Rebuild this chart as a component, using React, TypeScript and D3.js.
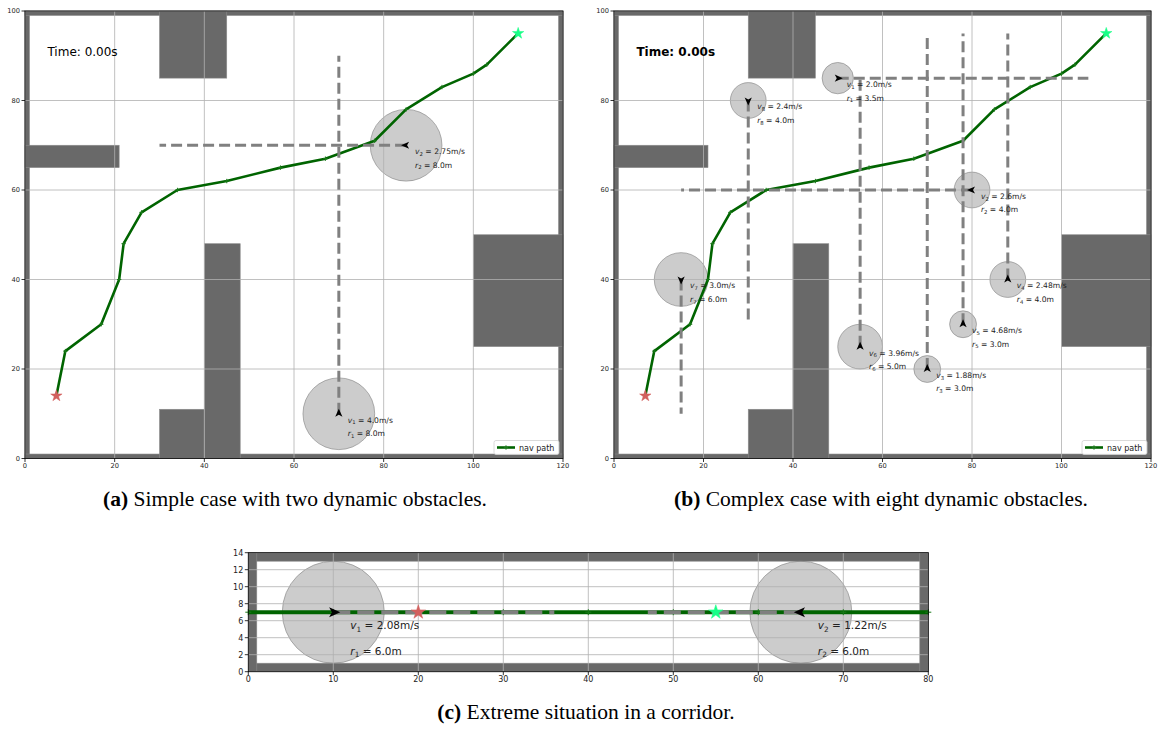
import React from 'react';
import * as d3 from 'd3';

// ---------- shared map (panels a and b), metres ----------
// rectangles as [x0, y0, x1, y1]
const MAP_WALLS: [number, number, number, number][] = [
  [0, 0, 1, 100],
  [119, 0, 120, 100],
  [0, 0, 120, 1],
  [0, 99, 120, 100],
];
const MAP_BLOCKS: [number, number, number, number][] = [
  [30, 85, 45, 100],
  [0, 65, 21, 70],
  [30, 0, 40, 11],
  [40, 0, 48, 48],
  [100, 25, 120, 50],
];

const NAV_X = [7, 9, 17, 21, 22, 26, 34, 45, 57, 67, 78, 85, 93, 100, 103, 110];
const NAV_Y = [14, 24, 30, 40, 48, 55, 60, 62, 65, 67, 71, 78, 83, 86, 88, 95];
const MAP_START: [number, number] = [7, 14];
const MAP_GOAL: [number, number] = [110, 95];
const MAP_X_TICKS = [0, 20, 40, 60, 80, 100, 120];
const MAP_Y_TICKS = [0, 20, 40, 60, 80, 100];

// ---------- panel (a): two dynamic obstacles ----------
const A_X = [70, 85];
const A_Y = [10, 70];
const A_R = [8, 8];
const A_V = [4.0, 2.75];
const A_END_X = [70, 30];
const A_END_Y = [90, 70];

// ---------- panel (b): eight dynamic obstacles ----------
const B_X = [50, 80, 70, 88, 78, 55, 15, 30];
const B_Y = [85, 60, 20, 40, 30, 25, 40, 80];
const B_R = [3.5, 4.0, 3.0, 4.0, 3.0, 5.0, 6.0, 4.0];
const B_V = [2.0, 2.6, 1.88, 2.48, 4.68, 3.96, 3.0, 2.4];
const B_END_X = [106, 15, 70, 88, 78, 55, 15, 30];
const B_END_Y = [85, 60, 95, 95, 95, 85, 10, 30];

// ---------- panel (c): corridor ----------
const C_WALLS: [number, number, number, number][] = [
  [0, 0, 80, 1],
  [0, 13, 80, 14],
  [0, 0, 1, 14],
  [79, 0, 80, 14],
];
const C_NAV_X = [0, 10, 20, 30, 40, 50, 60, 70, 80];
const C_NAV_Y = [7, 7, 7, 7, 7, 7, 7, 7, 7];
const C_START: [number, number] = [20, 7];
const C_GOAL: [number, number] = [55, 7];
const C_X = [10, 65];
const C_Y = [7, 7];
const C_R = [6.0, 6.0];
const C_V = [2.08, 1.22];
const C_END_X = [36, 47];
const C_END_Y = [7, 7];
const C_X_TICKS = [0, 10, 20, 30, 40, 50, 60, 70, 80];
const C_Y_TICKS = [0, 2, 4, 6, 8, 10, 12, 14];

const SANS = "'DejaVu Sans', 'Liberation Sans', sans-serif";
const SERIF = "'Liberation Serif', 'Times New Roman', serif";
const WALL = '#696969';
const PATH_GREEN = '#006400';

const fmt = (n: number) => (Number.isInteger(n) ? n.toFixed(1) : String(n));

interface Look {
  tick: number;
  tickLen: number;
  label: number;
  path: number;
  dashW: number;
  dash: string;
  mark: number;
  star: number;
  arrow: number;
}

interface Obstacles {
  x: number[];
  y: number[];
  r: number[];
  v: number[];
  ex: number[];
  ey: number[];
}

interface PanelProps {
  box: { left: number; right: number; top: number; bottom: number };
  xDomain: [number, number];
  yDomain: [number, number];
  xTicks: number[];
  yTicks: number[];
  rects: [number, number, number, number][];
  navX: number[];
  navY: number[];
  obs: Obstacles;
  start: [number, number];
  goal: [number, number];
  look: Look;
  time?: { bold: boolean };
  legend?: boolean;
}

function Subscripted({ sym, idx, rest, fs }: { sym: string; idx: number; rest: string; fs: number }) {
  return (
    <>
      <tspan fontStyle="italic">{sym}</tspan>
      <tspan fontSize={fs * 0.7} dy={fs * 0.22}>{idx}</tspan>
      <tspan dy={-fs * 0.22}>{rest}</tspan>
    </>
  );
}

function Panel(p: PanelProps) {
  const { box, look } = p;
  const xs = d3.scaleLinear().domain(p.xDomain).range([box.left, box.right]);
  const ys = d3.scaleLinear().domain(p.yDomain).range([box.bottom, box.top]);
  const line = d3
    .line<[number, number]>()
    .x((d) => xs(d[0]))
    .y((d) => ys(d[1]));
  const navPts = p.navX.map((x, i) => [x, p.navY[i]] as [number, number]);
  const starD = d3.symbol(d3.symbolStar, (look.star * look.star) / 0.8908130915292852)() || '';
  const a = look.arrow;
  const arrowD = `M${5 * a},0 L${-3 * a},${3.6 * a} L${-1 * a},0 L${-3 * a},${-3.6 * a} Z`;
  const m = look.mark;

  return (
    <g>
      {/* walls and static blocks */}
      {p.rects.map((r, i) => (
        <rect
          key={'w' + i}
          x={xs(r[0])}
          y={ys(r[3])}
          width={xs(r[2]) - xs(r[0])}
          height={ys(r[1]) - ys(r[3])}
          fill={WALL}
          stroke="#8c8c8c"
          strokeWidth={0.6}
        />
      ))}

      {/* dynamic obstacle bodies */}
      {p.obs.x.map((x, i) => (
        <circle
          key={'c' + i}
          cx={xs(x)}
          cy={ys(p.obs.y[i])}
          r={xs(p.obs.r[i]) - xs(0)}
          fill="#808080"
          fillOpacity={0.4}
          stroke="#808080"
          strokeOpacity={0.6}
          strokeWidth={1}
        />
      ))}

      {/* grid */}
      {p.xTicks.map((t) => (
        <line key={'gx' + t} x1={xs(t)} x2={xs(t)} y1={box.top} y2={box.bottom} stroke="#b0b0b0" strokeWidth={0.8} />
      ))}
      {p.yTicks.map((t) => (
        <line key={'gy' + t} y1={ys(t)} y2={ys(t)} x1={box.left} x2={box.right} stroke="#b0b0b0" strokeWidth={0.8} />
      ))}

      {/* navigation path */}
      <path d={line(navPts) || ''} fill="none" stroke={PATH_GREEN} strokeWidth={look.path} strokeLinejoin="round" />
      {navPts.map((d, i) => (
        <g key={'m' + i} transform={`translate(${xs(d[0])},${ys(d[1])})`} stroke="#1a7a1a" strokeWidth={1}>
          <line x1={-m} x2={m} y1={0} y2={0} />
          <line x1={0} x2={0} y1={-m} y2={m} />
        </g>
      ))}

      {/* obstacle trajectories */}
      {p.obs.x.map((x, i) => (
        <line
          key={'t' + i}
          x1={xs(x)}
          y1={ys(p.obs.y[i])}
          x2={xs(p.obs.ex[i])}
          y2={ys(p.obs.ey[i])}
          stroke="#808080"
          strokeWidth={look.dashW}
          strokeDasharray={look.dash}
        />
      ))}

      {/* heading arrows */}
      {p.obs.x.map((x, i) => {
        const dx = xs(p.obs.ex[i]) - xs(x);
        const dy = ys(p.obs.ey[i]) - ys(p.obs.y[i]);
        const ang = (Math.atan2(dy, dx) * 180) / Math.PI;
        return (
          <path
            key={'a' + i}
            d={arrowD}
            transform={`translate(${xs(x)},${ys(p.obs.y[i])}) rotate(${ang})`}
            fill="#000"
          />
        );
      })}

      {/* start / goal */}
      <path d={starD} transform={`translate(${xs(p.start[0])},${ys(p.start[1])})`} fill="#d2605e" stroke="#d2605e" strokeWidth={0.5} />
      <path d={starD} transform={`translate(${xs(p.goal[0])},${ys(p.goal[1])})`} fill="#18ff87" stroke="#18ff87" strokeWidth={0.5} />

      {/* obstacle annotations */}
      {p.obs.x.map((x, i) => (
        <g key={'l' + i} fontFamily={SANS} fontSize={look.label} fill="#222">
          <text x={xs(x + 2)} y={ys(p.obs.y[i] - 2)}>
            <Subscripted sym="v" idx={i + 1} rest={` = ${fmt(p.obs.v[i])}m/s`} fs={look.label} />
          </text>
          <text x={xs(x + 2)} y={ys(p.obs.y[i] - 5)}>
            <Subscripted sym="r" idx={i + 1} rest={` = ${fmt(p.obs.r[i])}m`} fs={look.label} />
          </text>
        </g>
      ))}

      {/* frame */}
      <rect
        x={box.left}
        y={box.top}
        width={box.right - box.left}
        height={box.bottom - box.top}
        fill="none"
        stroke="#000"
        strokeWidth={0.8}
      />

      {/* ticks */}
      <g fontFamily={SANS} fontSize={look.tick} fill="#222">
        {p.xTicks.map((t) => (
          <g key={'xt' + t}>
            <line x1={xs(t)} x2={xs(t)} y1={box.bottom} y2={box.bottom + look.tickLen} stroke="#000" strokeWidth={0.8} />
            <text x={xs(t)} y={box.bottom + look.tickLen + 1.2 + look.tick * 0.76} textAnchor="middle">
              {t}
            </text>
          </g>
        ))}
        {p.yTicks.map((t) => (
          <g key={'yt' + t}>
            <line x1={box.left - look.tickLen} x2={box.left} y1={ys(t)} y2={ys(t)} stroke="#000" strokeWidth={0.8} />
            <text x={box.left - look.tickLen - 1.5} y={ys(t) + look.tick * 0.36} textAnchor="end">
              {t}
            </text>
          </g>
        ))}
      </g>

      {p.time && (
        <text x={xs(5)} y={ys(90)} fontFamily={SANS} fontSize={12} fontWeight={p.time.bold ? 'bold' : 'normal'} fill="#000">
          Time: 0.00s
        </text>
      )}

      {p.legend && (
        <g>
          <rect
            x={box.right - 4 - 65}
            y={box.bottom - 4 - 14}
            width={65}
            height={14}
            rx={2}
            fill="#fff"
            fillOpacity={0.85}
            stroke="#d0d0d0"
            strokeWidth={0.8}
          />
          <line
            x1={box.right - 4 - 62}
            x2={box.right - 4 - 44}
            y1={box.bottom - 11}
            y2={box.bottom - 11}
            stroke={PATH_GREEN}
            strokeWidth={look.path}
          />
          <g transform={`translate(${box.right - 4 - 53},${box.bottom - 11})`} stroke="#1a7a1a" strokeWidth={1}>
            <line x1={-m} x2={m} y1={0} y2={0} />
            <line x1={0} x2={0} y1={-m} y2={m} />
          </g>
          <text x={box.right - 4 - 40} y={box.bottom - 8} fontFamily={SANS} fontSize={8} fill="#222">
            nav path
          </text>
        </g>
      )}
    </g>
  );
}

const MAP_LOOK: Look = {
  tick: 6.7,
  tickLen: 3.5,
  label: 7.6,
  path: 2.6,
  dashW: 3,
  dash: '11,5',
  mark: 2.2,
  star: 6,
  arrow: 1,
};

const CORRIDOR_LOOK: Look = {
  tick: 8,
  tickLen: 3.5,
  label: 10.5,
  path: 4,
  dashW: 4,
  dash: '17,7',
  mark: 3,
  star: 7.5,
  arrow: 1.4,
};

function Caption({ x, y, tag, text }: { x: number; y: number; tag: string; text: string }) {
  return (
    <text x={x} y={y} textAnchor="middle" fontFamily={SERIF} fontSize={21.5} fill="#000">
      <tspan fontWeight="bold">{tag}</tspan>
      <tspan>{' ' + text}</tspan>
    </text>
  );
}

export default function App() {
  const boxA = { left: 25, right: 563, top: 11, bottom: 458.5 };
  const boxB = { left: 614, right: 1151, top: 11, bottom: 458.5 };
  const boxC = { left: 248.3, right: 928.3, top: 552.7, bottom: 671.7 };
  return (
    <svg
      width={1158}
      height={732}
      viewBox="0 0 1158 732"
      style={{ position: 'absolute', left: 0, top: 0, background: '#fff' }}
    >
      <Panel
        box={boxA}
        xDomain={[0, 120]}
        yDomain={[0, 100]}
        xTicks={MAP_X_TICKS}
        yTicks={MAP_Y_TICKS}
        rects={[...MAP_WALLS, ...MAP_BLOCKS]}
        navX={NAV_X}
        navY={NAV_Y}
        obs={{ x: A_X, y: A_Y, r: A_R, v: A_V, ex: A_END_X, ey: A_END_Y }}
        start={MAP_START}
        goal={MAP_GOAL}
        look={MAP_LOOK}
        time={{ bold: false }}
        legend
      />
      <Panel
        box={boxB}
        xDomain={[0, 120]}
        yDomain={[0, 100]}
        xTicks={MAP_X_TICKS}
        yTicks={MAP_Y_TICKS}
        rects={[...MAP_WALLS, ...MAP_BLOCKS]}
        navX={NAV_X}
        navY={NAV_Y}
        obs={{ x: B_X, y: B_Y, r: B_R, v: B_V, ex: B_END_X, ey: B_END_Y }}
        start={MAP_START}
        goal={MAP_GOAL}
        look={MAP_LOOK}
        time={{ bold: true }}
        legend
      />
      <Panel
        box={boxC}
        xDomain={[0, 80]}
        yDomain={[0, 14]}
        xTicks={C_X_TICKS}
        yTicks={C_Y_TICKS}
        rects={C_WALLS}
        navX={C_NAV_X}
        navY={C_NAV_Y}
        obs={{ x: C_X, y: C_Y, r: C_R, v: C_V, ex: C_END_X, ey: C_END_Y }}
        start={C_START}
        goal={C_GOAL}
        look={CORRIDOR_LOOK}
      />
      <Caption x={295} y={506} tag="(a)" text="Simple case with two dynamic obstacles." />
      <Caption x={881} y={506} tag="(b)" text="Complex case with eight dynamic obstacles." />
      <Caption x={586} y={718.5} tag="(c)" text="Extreme situation in a corridor." />
    </svg>
  );
}
